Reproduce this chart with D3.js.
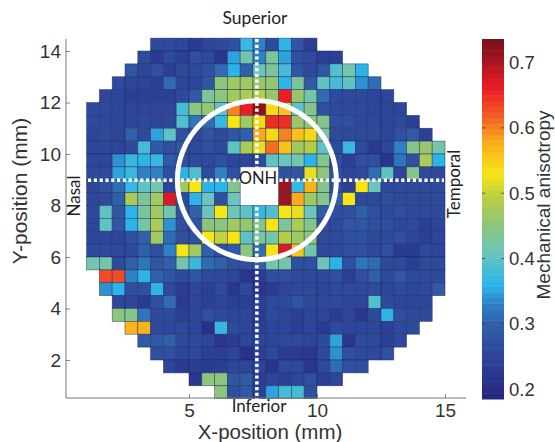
<!DOCTYPE html>
<html>
<head>
<meta charset="utf-8">
<script src="https://cdn.jsdelivr.net/npm/d3@7"></script>
<style>
  body { margin: 0; background: #fff; }
  text { font-family: "Liberation Sans", Arial, sans-serif; fill: #333; }
  .note { font-family: "Lato", sans-serif; fill: #222; }
</style>
</head>
<body>
<svg id="chart" width="555" height="442"></svg>
<script>
const X_TICKS = [5, 10, 15];
const Y_TICKS = [2, 4, 6, 8, 10, 12, 14];
const BAR_TICKS = [0.2, 0.3, 0.4, 0.5, 0.6, 0.7];
const BAR_DOMAIN = [0.185, 0.736];

const COLOR_VALUES = [0.185, 0.23, 0.27, 0.30, 0.33, 0.36, 0.41, 0.45, 0.49, 0.53, 0.58, 0.62, 0.66, 0.71, 0.736];
const COLOR_RANGE = ["#26247c", "#2b3a94", "#2f4fa0", "#3060aa", "#2f80c4", "#2cb4ea", "#6cc5bc", "#8cc57c", "#b4cd48", "#f5e614", "#fba81c", "#f15a24", "#ec1c24", "#9b1420", "#7a1016"];

// first occupied column of every row, row 0 is the top one
const ROW_START = [5, 4, 3, 2, 1, 0, 0, 0, 0, 0, 0, 0, 0, 0, 0, 0, 0, 0, 1, 1, 2, 2, 3, 4, 5, 6, 8, 10];

// mechanical anisotropy per cell, null is the ONH hole
const ANISOTROPY = [
  [.26,.26,.25,.23,.25,.26,.27,.37,.33,.26,.36,.28,.24],
  [.26,.23,.26,.24,.27,.26,.22,.35,.42,.33,.43,.35,.27,.26,.24,.24],
  [.28,.25,.27,.24,.26,.26,.27,.31,.36,.30,.41,.43,.38,.28,.26,.28,.39,.42,.36],
  [.26,.25,.25,.24,.31,.25,.25,.28,.45,.47,.47,.46,.46,.36,.43,.29,.40,.38,.40,.34,.31],
  [.25,.25,.24,.24,.24,.24,.26,.29,.43,.45,.47,.48,.49,.46,.66,.46,.42,.31,.26,.26,.26,.25,.25],
  [.26,.26,.25,.25,.25,.25,.25,.38,.45,.46,.40,.60,.66,.72,.54,.56,.40,.44,.27,.26,.26,.26,.25,.25,.25],
  [.26,.26,.25,.25,.26,.25,.26,.39,.32,.31,.37,.53,.47,.54,.65,.65,.46,.45,.44,.27,.27,.26,.26,.25,.26,.24],
  [.25,.26,.25,.30,.26,.35,.40,.27,.26,.28,.26,.28,.30,.58,.54,.60,.56,.54,.43,.26,.26,.26,.26,.25,.27,.29,.24],
  [.25,.25,.25,.26,.38,.29,.27,.28,.26,.27,.26,.40,.48,.52,.61,.56,.47,.49,.40,.26,.37,.26,.23,.25,.33,.44,.46,.42],
  [.25,.25,.34,.37,.36,.37,.29,.27,.26,.26,.27,.25,.25,.26,.40,.41,.42,.36,.44,.27,.24,.27,.27,.22,.32,.27,.48,.36],
  [.26,.26,.35,.37,.33,.33,.27,.36,.39,.26,.33,.27,null,null,null,.27,.28,.52,.45,.27,.25,.26,.31,.40,.25,.44,.26,.26],
  [.25,.27,.31,.37,.40,.42,.25,.47,.53,.36,.36,.44,null,null,null,.71,.37,.57,.44,.26,.24,.53,.41,.26,.26,.26,.26,.26],
  [.25,.26,.30,.48,.43,.47,.67,.26,.36,.41,.27,.41,null,null,null,.71,.58,.47,.44,.30,.53,.26,.26,.27,.26,.26,.26,.26],
  [.26,.40,.28,.36,.43,.47,.42,.27,.30,.41,.53,.41,.40,.37,.39,.53,.52,.41,.29,.27,.27,.30,.27,.26,.27,.26,.26,.26],
  [.25,.40,.28,.36,.42,.48,.34,.27,.28,.45,.45,.47,.46,.44,.53,.43,.48,.44,.27,.26,.28,.28,.27,.27,.25,.26,.24,.25],
  [.25,.25,.25,.27,.30,.47,.31,.27,.27,.53,.50,.53,.40,.43,.42,.49,.47,.45,.26,.26,.27,.27,.26,.26,.27,.25,.24,.25],
  [.26,.26,.26,.26,.30,.27,.33,.53,.47,.30,.27,.29,.45,.31,.53,.67,.56,.42,.26,.26,.27,.27,.26,.27,.23,.23,.26,.25],
  [.42,.42,.26,.30,.32,.28,.30,.42,.37,.31,.30,.27,.27,.30,.42,.42,.27,.27,.41,.36,.27,.32,.31,.26,.26,.24,.26,.26],
  [.63,.63,.33,.36,.30,.28,.26,.28,.26,.26,.25,.22,.23,.27,.27,.26,.26,.26,.27,.24,.27,.30,.26,.28,.26,.26,.26],
  [.34,.36,.27,.27,.36,.26,.23,.25,.24,.26,.22,.26,.22,.23,.25,.26,.26,.25,.26,.26,.26,.26,.25,.26,.25,.26,.29],
  [.25,.25,.23,.27,.31,.23,.25,.24,.25,.24,.24,.24,.26,.26,.28,.26,.26,.26,.25,.25,.39,.26,.25,.25,.25],
  [.45,.44,.32,.26,.26,.24,.25,.27,.26,.25,.25,.23,.26,.25,.24,.25,.25,.23,.25,.22,.26,.36,.27,.26,.26],
  [.57,.57,.26,.25,.26,.25,.21,.37,.26,.25,.24,.25,.25,.24,.25,.23,.26,.25,.25,.25,.24,.26,.26],
  [.29,.29,.30,.26,.26,.25,.22,.23,.25,.25,.25,.26,.26,.25,.26,.35,.22,.26,.26,.24,.26],
  [.27,.27,.25,.26,.24,.24,.25,.21,.24,.26,.23,.23,.22,.26,.34,.27,.26,.26,.27],
  [.25,.23,.24,.23,.24,.25,.25,.25,.22,.26,.26,.22,.26,.31,.27,.27],
  [.22,.45,.45,.28,.29,.24,.25,.24,.25,.27,.24,.25],
  [.45,.27,.29,.24,.35,.38,.38,.27]
];

const CELL_MM = 0.5;
const GRID_LEFT_MM = 1;
const GRID_TOP_MM = 14.5;

const svg = d3.select("#chart");

const x = d3.scaleLinear().domain([5, 15]).range([189, 445]);
const y = d3.scaleLinear().domain([2, 14]).range([360, 51]);
const barY = d3.scaleLinear().domain(BAR_DOMAIN).range([399, 39]);
const color = d3.scaleLinear().domain(COLOR_VALUES).range(COLOR_RANGE).clamp(true);

const AXIS_LEFT = 66;
const AXIS_RIGHT = 466;
const AXIS_TOP = 39;
const AXIS_BOTTOM = 398;

// heat map
const cells = ANISOTROPY.flatMap((row, r) =>
  row.map((v, i) => ({ r, c: ROW_START[r] + i, v })).filter(d => d.v !== null));

svg.append("g")
  .selectAll("rect")
  .data(cells)
  .join("rect")
  .attr("x", d => x(GRID_LEFT_MM + d.c * CELL_MM))
  .attr("y", d => y(GRID_TOP_MM - d.r * CELL_MM))
  .attr("width", x(CELL_MM) - x(0))
  .attr("height", y(0) - y(CELL_MM))
  .attr("fill", d => color(d.v))
  .attr("stroke", "#1c2a55")
  .attr("stroke-opacity", 0.65)
  .attr("stroke-width", 0.7);

// axes
const styleAxis = (g, size) => {
  g.selectAll(".domain").remove();
  g.selectAll("line").attr("stroke", "#666").attr("stroke-width", 0.8);
  g.selectAll("text").style("font-size", size + "px").attr("fill", "#333");
};

svg.append("g")
  .attr("transform", `translate(0,${AXIS_BOTTOM})`)
  .call(d3.axisBottom(x).tickValues(X_TICKS).tickSize(-4).tickPadding(6))
  .call(styleAxis, 19);

svg.append("g")
  .attr("transform", `translate(${AXIS_LEFT},0)`)
  .call(d3.axisLeft(y).tickValues(Y_TICKS).tickSize(-4).tickPadding(5))
  .call(styleAxis, 19);

svg.append("path")
  .attr("d", `M${AXIS_LEFT} ${AXIS_TOP}V${AXIS_BOTTOM}H${AXIS_RIGHT}`)
  .attr("fill", "none")
  .attr("stroke", "#777")
  .attr("stroke-width", 1);

// overlay: dotted cross and ring round the nerve head
const OVERLAY_X = 7.65;
const OVERLAY_Y = 8.98;
const ox = x(OVERLAY_X);
const oy = y(OVERLAY_Y);

svg.append("line")
  .attr("x1", ox).attr("x2", ox).attr("y1", AXIS_TOP).attr("y2", AXIS_BOTTOM + 1)
  .attr("stroke", "#fff").attr("stroke-width", 3.5).attr("stroke-dasharray", "3.2 2.6");
svg.append("line")
  .attr("x1", 88).attr("x2", 444).attr("y1", oy).attr("y2", oy)
  .attr("stroke", "#fff").attr("stroke-width", 3.5).attr("stroke-dasharray", "3.2 2.6");

svg.append("circle")
  .attr("cx", ox).attr("cy", oy).attr("r", 79.5)
  .attr("fill", "none").attr("stroke", "#fff").attr("stroke-width", 5);

const note = (text, px, py, rotate, size) => svg.append("text")
  .attr("class", "note")
  .attr("text-anchor", "middle")
  .attr("transform", `translate(${px},${py})` + (rotate ? " rotate(-90)" : ""))
  .style("font-size", size + "px")
  .text(text);

note("Superior", 255, 24, false, 17.5);
note("Inferior", 259, 412, false, 17);
note("ONH", 258, 184, false, 16.5);
note("Nasal", 80, 196, true, 17);
note("Temporal", 460, 184, true, 17);

// axis titles
svg.append("text")
  .attr("text-anchor", "middle")
  .attr("x", 270).attr("y", 439)
  .style("font-size", "20.5px")
  .text("X-position (mm)");
svg.append("text")
  .attr("text-anchor", "middle")
  .attr("transform", "translate(27,191) rotate(-90)")
  .style("font-size", "21px")
  .text("Y-position (mm)");

// colour bar, 64 flat levels like the source colormap
const levels = d3.range(64).map(i => BAR_DOMAIN[0] + (BAR_DOMAIN[1] - BAR_DOMAIN[0]) * i / 64);
const levelStep = (BAR_DOMAIN[1] - BAR_DOMAIN[0]) / 64;

svg.append("g")
  .selectAll("rect")
  .data(levels)
  .join("rect")
  .attr("x", 482)
  .attr("width", 22)
  .attr("y", d => barY(d + levelStep))
  .attr("height", d => barY(d) - barY(d + levelStep) + 0.5)
  .attr("fill", d => color(d + levelStep / 2));

svg.append("g")
  .attr("transform", "translate(504,0)")
  .call(d3.axisRight(barY).tickValues(BAR_TICKS).tickSize(0).tickPadding(5).tickFormat(d3.format(".1f")))
  .call(styleAxis, 18.5);

svg.append("g")
  .selectAll("path")
  .data(BAR_TICKS)
  .join("path")
  .attr("d", d => `M482 ${barY(d)}h3M504 ${barY(d)}h-3`)
  .attr("stroke", "#333")
  .attr("stroke-width", 0.7);

svg.append("text")
  .attr("text-anchor", "middle")
  .attr("transform", "translate(550,205) rotate(-90)")
  .style("font-size", "19px")
  .text("Mechanical anisotropy");
</script>
</body>
</html>
